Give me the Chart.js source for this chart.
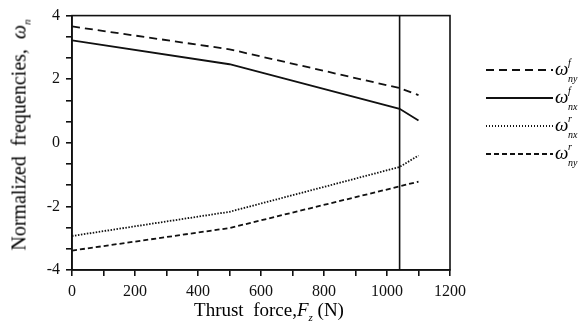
<!DOCTYPE html>
<html lang="en">
<head>
    <meta charset="UTF-8">
    <title>Normalized frequencies vs thrust force</title>
    <script src="https://cdn.jsdelivr.net/npm/chart.js"></script>
    <style>
        body { margin: 0; background: #fff; }
        #wrap { position: relative; width: 583px; height: 334px; font-family: "Liberation Serif", "DejaVu Serif", serif; color: #000; }
        #wrap canvas { position: absolute; left: 0; top: 0; }
        .ytitle { position: absolute; left: 20px; top: 135px; transform: translate(-50%, -50%) rotate(-90deg); font-size: 20px; white-space: nowrap; }
        .xtitle { position: absolute; left: 269px; top: 311px; transform: translate(-50%, -50%); font-size: 19px; white-space: nowrap; }
        .legend { position: absolute; left: 486px; top: 58px; }
        .row { position: absolute; left: 0; height: 22px; width: 100px; }
        .sample { position: absolute; left: 0; top: 11px; width: 67px; height: 2px; }
        .sym { position: absolute; left: 69px; top: 0; font-size: 19px; font-style: italic; line-height: 22px; }
        .sym sup, .sym sub { font-size: 10px; position: absolute; left: 13px; }
        .sym sup { top: -6px; }
        .sym sub { top: 10px; }
    </style>
</head>
<body>
    <div id="wrap">
        <canvas id="chart"></canvas>
        <div class="ytitle">Normalized&nbsp; frequencies, &nbsp;<i>ω</i><sub style="font-size:11px"><i>n</i></sub></div>
        <div class="xtitle">Thrust&nbsp; force,<i>F</i><sub style="font-size:11px"><i>z</i></sub> (N)</div>
        <div class="legend" id="legend"></div>
    </div>
    <script>
        // Thrust force values (N)
        const force = [0, 500, 1040, 1100];

        // Normalized frequencies
        const nyF = [3.66, 2.94, 1.72, 1.50];
        const nxF = [3.22, 2.47, 1.07, 0.70];
        const nxR = [-2.93, -2.17, -0.76, -0.40];
        const nyR = [-3.39, -2.68, -1.37, -1.22];

        // Vertical marker line
        const markerX = 1040;

        // Axis ticks
        const xTicks = [0, 100, 200, 300, 400, 500, 600, 700, 800, 900, 1000, 1100, 1200];
        const xLabels = [0, 200, 400, 600, 800, 1000, 1200];
        const yTicks = [-4, -10 / 3, -8 / 3, -2, -4 / 3, -2 / 3, 0, 2 / 3, 4 / 3, 2, 8 / 3, 10 / 3, 4];
        const yLabels = [-4, -2, 0, 2, 4];

        const ink = '#111';

        const seriesList = [
            { key: 'nyF', data: nyF, dash: [8, 5], width: 1.8, sup: 'f', sub: 'ny' },
            { key: 'nxF', data: nxF, dash: [], width: 1.8, sup: 'f', sub: 'nx' },
            { key: 'nxR', data: nxR, dash: [1.5, 1.5], width: 1.8, sup: 'r', sub: 'nx' },
            { key: 'nyR', data: nyR, dash: [5, 3], width: 1.8, sup: 'r', sub: 'ny' }
        ];

        const datasets = seriesList.map(s => ({
            label: s.key,
            data: force.map((f, i) => ({ x: f, y: s.data[i] })),
            borderColor: ink,
            borderWidth: s.width,
            borderDash: s.dash,
            pointRadius: 0,
            fill: false,
            tension: 0
        }));

        datasets.push({
            label: 'marker',
            data: [{ x: markerX, y: -4 }, { x: markerX, y: 4 }],
            borderColor: ink,
            borderWidth: 1.6,
            pointRadius: 0,
            fill: false
        });

        // Box round the plot area
        const boxPlugin = {
            id: 'box',
            afterDatasetsDraw(chart) {
                const a = chart.chartArea;
                const c = chart.ctx;
                c.save();
                c.strokeStyle = ink;
                c.lineWidth = 1.6;
                c.strokeRect(a.left, a.top, a.right - a.left, a.bottom - a.top);
                c.restore();
            }
        };

        new Chart(document.getElementById('chart'), {
            type: 'line',
            data: { datasets },
            options: {
                responsive: true,
                maintainAspectRatio: false,
                animation: false,
                layout: { padding: { left: 0, right: 133, top: 8, bottom: 0 } },
                plugins: { legend: { display: false }, tooltip: { enabled: false } },
                scales: {
                    x: {
                        type: 'linear',
                        min: 0,
                        max: 1200,
                        afterBuildTicks: scale => { scale.ticks = xTicks.map(v => ({ value: v })); },
                        afterFit: scale => { scale.height = 64; },
                        grid: { drawOnChartArea: false, tickLength: 6, color: ink, lineWidth: 1.6 },
                        border: { color: ink, width: 1.6 },
                        ticks: {
                            color: ink,
                            padding: 6,
                            maxRotation: 0,
                            autoSkip: false,
                            font: { family: 'Liberation Serif', size: 16 },
                            callback: v => xLabels.includes(v) ? String(v) : ''
                        }
                    },
                    y: {
                        min: -4,
                        max: 4,
                        afterBuildTicks: scale => { scale.ticks = yTicks.map(v => ({ value: v })); },
                        afterFit: scale => { scale.width = 72; },
                        grid: { drawOnChartArea: false, tickLength: 6, color: ink, lineWidth: 1.6 },
                        border: { color: ink, width: 1.6 },
                        ticks: {
                            color: ink,
                            padding: 6,
                            autoSkip: false,
                            font: { family: 'Liberation Serif', size: 16 },
                            callback: v => {
                                const r = Math.round(v);
                                return (Math.abs(v - r) < 1e-6 && yLabels.includes(r)) ? String(r) : '';
                            }
                        }
                    }
                }
            },
            plugins: [boxPlugin]
        });

        // Legend built from the same series list
        const legend = document.getElementById('legend');
        seriesList.forEach((s, i) => {
            const row = document.createElement('div');
            row.className = 'row';
            row.style.top = [0, 28, 56, 84][i] + 'px';
            const sample = document.createElement('div');
            sample.className = 'sample';
            if (s.dash.length) {
                const on = s.dash[0], off = s.dash[1];
                sample.style.background = `repeating-linear-gradient(to right, ${ink} 0 ${on}px, transparent ${on}px ${on + off}px)`;
            } else {
                sample.style.background = ink;
            }
            const sym = document.createElement('span');
            sym.className = 'sym';
            sym.innerHTML = `ω<sup>${s.sup}</sup><sub>${s.sub}</sub>`;
            row.appendChild(sample);
            row.appendChild(sym);
            legend.appendChild(row);
        });
    </script>
</body>
</html>
